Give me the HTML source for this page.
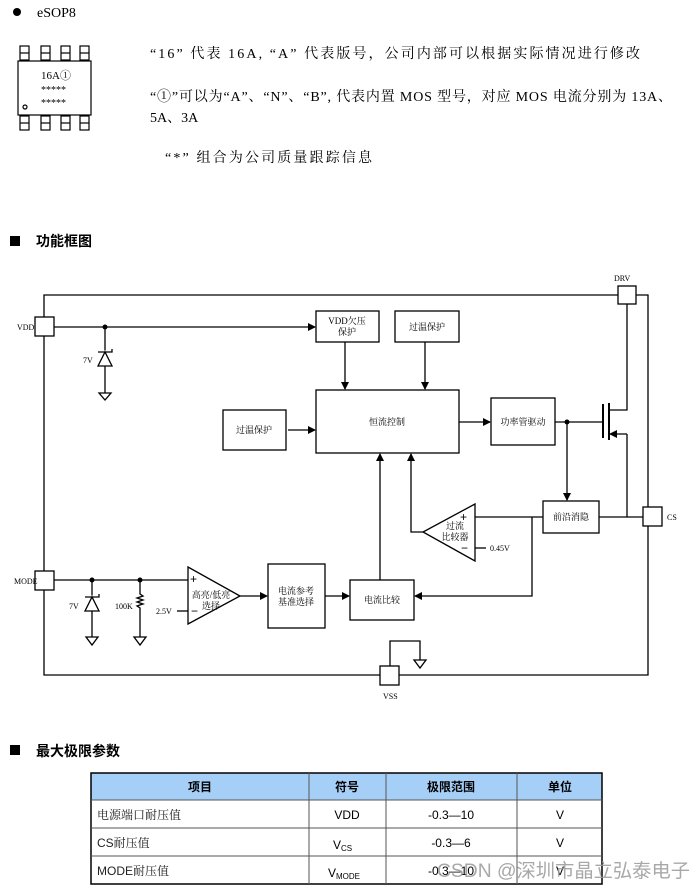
<!DOCTYPE html>
<html><head><meta charset="utf-8"><style>
body{margin:0;background:#fff;width:700px;height:888px;overflow:hidden}
svg{display:block}
.s{font-family:"Liberation Serif","Noto Serif CJK SC",serif}
.a{font-family:"Liberation Sans","Noto Sans CJK SC",sans-serif}
</style></head><body>
<svg width="700" height="888" viewBox="0 0 700 888" xmlns="http://www.w3.org/2000/svg">
<defs><marker id="ar" markerWidth="8" markerHeight="8" refX="7" refY="4" orient="auto" markerUnits="userSpaceOnUse"><path d="M0,0 L8,4 L0,8 z" fill="#000"/></marker></defs>
<g class="s" fill="#000">
<circle cx="17" cy="12" r="4"/>
<text x="37" y="17" font-size="14">eSOP8</text>
<g fill="none" stroke="#000" stroke-width="1.2">
<rect x="18" y="61" width="73" height="54"/>
<rect x="20" y="46" width="9" height="14"/><line x1="20" y1="53" x2="29" y2="53"/>
<rect x="41" y="46" width="9" height="14"/><line x1="41" y1="53" x2="50" y2="53"/>
<rect x="61" y="46" width="9" height="14"/><line x1="61" y1="53" x2="70" y2="53"/>
<rect x="80" y="46" width="9" height="14"/><line x1="80" y1="53" x2="89" y2="53"/>
<rect x="20" y="116" width="9" height="14"/><line x1="20" y1="123" x2="29" y2="123"/>
<rect x="41" y="116" width="9" height="14"/><line x1="41" y1="123" x2="50" y2="123"/>
<rect x="61" y="116" width="9" height="14"/><line x1="61" y1="123" x2="70" y2="123"/>
<rect x="80" y="116" width="9" height="14"/><line x1="80" y1="123" x2="89" y2="123"/>
<circle cx="25" cy="107" r="2"/>
</g>
<text x="41" y="79" font-size="11">16A①</text>
<text x="41" y="93" font-size="10">*****</text>
<text x="41" y="106" font-size="10">*****</text>
<text x="150" y="58" font-size="14" textLength="490" lengthAdjust="spacing">“16” 代表 16A, “A” 代表版号，公司内部可以根据实际情况进行修改</text>
<text x="150" y="101" font-size="14" textLength="522" lengthAdjust="spacing">“①”可以为“A”、“N”、“B”, 代表内置 MOS 型号，对应 MOS 电流分别为 13A、</text>
<text x="150" y="122" font-size="14">5A、3A</text>
<text x="165" y="162" font-size="14" textLength="207" lengthAdjust="spacing">“*” 组合为公司质量跟踪信息</text>
</g>
<g class="a">
<rect x="10" y="236" width="10" height="10"/>
<text x="36" y="246" font-size="14" font-weight="bold">功能框图</text>
<rect x="10" y="745" width="10" height="10"/>
<text x="36" y="756" font-size="14" font-weight="bold">最大极限参数</text>
</g>
<g fill="none" stroke="#000" stroke-width="1.3">
<polyline points="44,317 44,295 618,295"/><polyline points="636,295 648,295 648,507"/>
<polyline points="648,526 648,675 399,675"/><polyline points="380,675 44,675 44,590"/>
<line x1="44" y1="336" x2="44" y2="571"/>
<rect x="35" y="317" width="19" height="19" fill="#fff"/>
<rect x="618" y="286" width="18" height="18" fill="#fff"/>
<rect x="35" y="571" width="19" height="19" fill="#fff"/>
<rect x="643" y="507" width="19" height="19" fill="#fff"/>
<rect x="380" y="666" width="19" height="19" fill="#fff"/>
<line x1="54" y1="327" x2="315" y2="327" marker-end="url(#ar)"/>
<line x1="105" y1="327" x2="105" y2="393"/>
<path d="M98,366 L112,366 L105,352 Z M98,352 L112,352 L112,349" fill="#fff"/>
<path d="M99,393 L111,393 L105,400 Z"/>
<rect x="316" y="311" width="63" height="31"/>
<rect x="395" y="311" width="64" height="31"/>
<line x1="345" y1="342" x2="345" y2="389" marker-end="url(#ar)"/>
<line x1="425" y1="342" x2="425" y2="389" marker-end="url(#ar)"/>
<rect x="316" y="390" width="143" height="63"/>
<rect x="223" y="410" width="63" height="40"/>
<line x1="288" y1="430" x2="315" y2="430" marker-end="url(#ar)"/>
<rect x="491" y="398" width="64" height="47"/>
<line x1="459" y1="422" x2="490" y2="422" marker-end="url(#ar)"/>
<line x1="555" y1="422" x2="603" y2="422"/>
<line x1="603" y1="404" x2="603" y2="438" stroke-width="2"/>
<line x1="609" y1="403" x2="609" y2="440" stroke-width="2"/>
<polyline points="609,410 627,410 627,304"/>
<line x1="627" y1="434" x2="610" y2="434" marker-end="url(#ar)"/>
<line x1="627" y1="434" x2="627" y2="517"/>
<line x1="567" y1="422" x2="567" y2="500" marker-end="url(#ar)"/>
<rect x="543" y="501" width="56" height="32"/>
<line x1="599" y1="517" x2="643" y2="517"/>
<path d="M475,504 L475,561 L423,532 Z"/>
<line x1="475" y1="517" x2="543" y2="517"/>
<line x1="475" y1="548" x2="486" y2="548"/>
<polyline points="423,532 411,532 411,454" marker-end="url(#ar)"/>
<polyline points="532,517 532,596 415,596" marker-end="url(#ar)"/>
<rect x="350" y="580" width="64" height="40"/>
<line x1="380" y1="580" x2="380" y2="454" marker-end="url(#ar)"/>
<rect x="268" y="564" width="57" height="64"/>
<line x1="325" y1="596" x2="349" y2="596" marker-end="url(#ar)"/>
<path d="M188,567 L188,624 L240,596 Z"/>
<line x1="240" y1="596" x2="267" y2="596" marker-end="url(#ar)"/>
<line x1="54" y1="580" x2="188" y2="580"/>
<line x1="177" y1="611" x2="188" y2="611"/>
<line x1="92" y1="580" x2="92" y2="637"/>
<path d="M85,611 L99,611 L92,597 Z M85,597 L99,597 L99,594" fill="#fff"/>
<path d="M86,637 L98,637 L92,645 Z"/>
<polyline points="140,580 140,594 143,596 137,598 143,600 137,602 143,604 137,606 140,608 140,637"/>
<path d="M134,637 L146,637 L140,645 Z"/>
<polyline points="390,666 390,641 420,641 420,660"/>
<path d="M414,660 L426,660 L420,668 Z"/>
</g>
<g fill="#000">
<circle cx="105" cy="327" r="2.5"/><circle cx="567" cy="422" r="2.5"/>
<circle cx="92" cy="580" r="2.5"/><circle cx="140" cy="580" r="2.5"/>
</g>
<g class="s" font-size="8" fill="#000">
<text x="17" y="330">VDD</text><text x="614" y="281">DRV</text>
<text x="83" y="363">7V</text><text x="14" y="584">MODE</text>
<text x="667" y="520">CS</text><text x="383" y="699">VSS</text>
<text x="69" y="609">7V</text><text x="115" y="609">100K</text>
<text x="156" y="614">2.5V</text><text x="490" y="551">0.45V</text>
<g text-anchor="middle" font-size="9">
<text x="347" y="324">VDD欠压</text><text x="347" y="335">保护</text>
<text x="427" y="330">过温保护</text>
<text x="387" y="425">恒流控制</text>
<text x="254" y="433">过温保护</text>
<text x="523" y="425">功率管驱动</text>
<text x="571" y="520">前沿消隐</text>
<text x="455" y="529">过流</text><text x="455" y="540">比较器</text>
<text x="211" y="598">高亮/低亮</text><text x="211" y="609">选择</text>
<text x="296" y="594">电流参考</text><text x="296" y="605">基准选择</text>
<text x="382" y="603">电流比较</text>
</g>
<text x="190" y="583" font-size="12" font-family="Liberation Sans">+</text>
<text x="191" y="615" font-size="12" font-family="Liberation Sans">−</text>
<text x="460" y="521" font-size="12" font-family="Liberation Sans">+</text>
<text x="461" y="552" font-size="12" font-family="Liberation Sans">−</text>
</g>
<rect x="91" y="773" width="511" height="27" fill="#a6cff7"/>
<g stroke="#555" stroke-width="1" fill="none">
<rect x="91" y="773" width="511" height="111" stroke="#000" stroke-width="1.5"/>
<line x1="91" y1="800" x2="602" y2="800"/><line x1="91" y1="828" x2="602" y2="828"/><line x1="91" y1="856" x2="602" y2="856"/>
<line x1="309" y1="773" x2="309" y2="884"/><line x1="386" y1="773" x2="386" y2="884"/><line x1="517" y1="773" x2="517" y2="884"/>
</g>
<g class="a" font-size="12" fill="#000">
<g text-anchor="middle" font-weight="bold">
<text x="200" y="791">项目</text><text x="347" y="791">符号</text><text x="451" y="791">极限范围</text><text x="560" y="791">单位</text>
</g>
<g font-family="Liberation Sans, Noto Serif CJK SC, serif" fill="#222">
<text x="97" y="819">电源端口耐压值</text><text x="97" y="847">CS耐压值</text><text x="97" y="875">MODE耐压值</text>
</g>
<g text-anchor="middle">
<text x="347" y="819">VDD</text><text x="451" y="819">-0.3—10</text><text x="560" y="819">V</text>
<text x="451" y="847">-0.3—6</text><text x="560" y="847">V</text>
<text x="451" y="875">-0.3—10</text><text x="560" y="875">V</text>
</g>
<text x="333" y="849">V<tspan font-size="8" dy="2">CS</tspan></text>
<text x="328" y="877">V<tspan font-size="8" dy="2">MODE</tspan></text>
</g>
<text x="437" y="877" class="a" font-size="19" fill="#999" fill-opacity="0.85" textLength="253" lengthAdjust="spacingAndGlyphs">CSDN @深圳市晶立弘泰电子</text>
</svg>
</body></html>
